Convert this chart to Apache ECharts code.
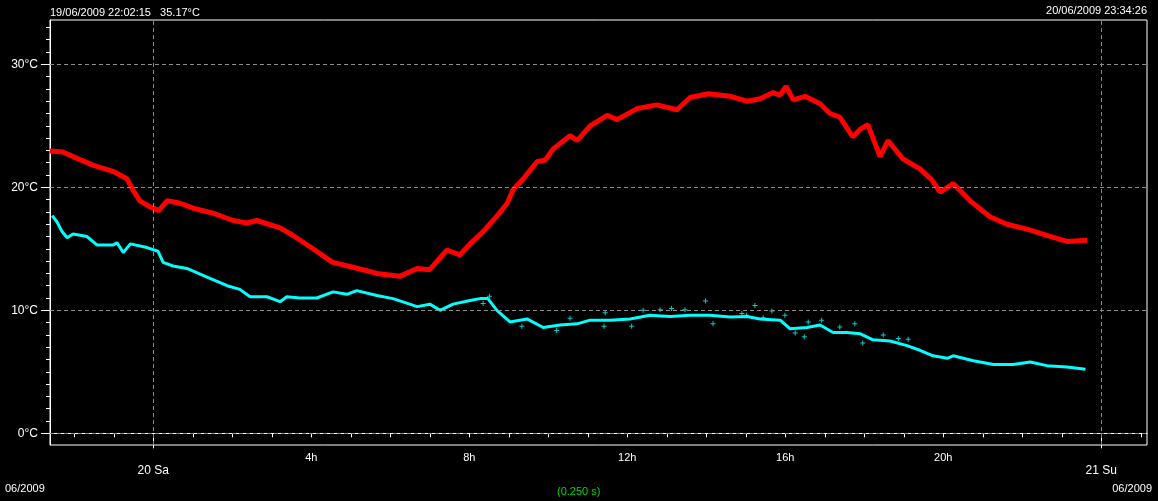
<!DOCTYPE html>
<html>
<head>
<meta charset="utf-8">
<script src="https://cdn.jsdelivr.net/npm/echarts@6/dist/echarts.min.js"></script>
<style>
html,body{margin:0;padding:0;background:#000;}
#c{width:1158px;height:501px;}
</style>
</head>
<body>
<div id="c"></div>
<script>
// x values are hours counted from 19/06/2009 00:00
var redX = [21.38,21.71,22.07,22.47,22.98,23.33,23.49,23.66,23.92,24.14,24.35,24.68,25.01,25.51,26.02,26.37,26.62,27.21,27.53,28.04,28.54,29.06,29.66,30.24,30.68,31.0,31.43,31.76,32.02,32.35,32.71,32.96,33.11,33.37,33.72,33.92,34.12,34.55,34.73,35.06,35.49,35.74,36.25,36.75,37.26,37.59,38.05,38.6,39.03,39.36,39.69,39.87,40.02,40.2,40.5,40.88,41.13,41.38,41.71,41.89,42.09,42.4,42.6,42.98,43.41,43.71,43.92,44.25,44.68,45.18,45.61,46.12,46.62,47.13,47.64];
var redY = [22.95,22.87,22.35,21.8,21.3,20.7,19.75,18.9,18.4,18.1,18.9,18.7,18.3,17.9,17.3,17.1,17.3,16.7,16.1,15.0,13.9,13.5,13.0,12.76,13.4,13.3,14.9,14.5,15.4,16.4,17.7,18.7,19.8,20.7,22.1,22.2,23.1,24.2,23.8,25.0,25.85,25.5,26.4,26.7,26.3,27.3,27.6,27.4,27.0,27.2,27.7,27.5,28.2,27.1,27.4,26.8,26.0,25.7,24.1,24.7,25.1,22.5,23.8,22.3,21.5,20.6,19.6,20.3,18.9,17.6,17.0,16.6,16.1,15.6,15.7];

var cyanX = [21.44,21.56,21.69,21.82,21.97,22.32,22.58,22.98,23.08,23.24,23.42,23.84,24.12,24.25,24.5,24.85,25.36,25.87,26.19,26.45,26.88,27.21,27.38,27.71,28.14,28.55,28.9,29.15,29.66,30.07,30.68,31.0,31.26,31.59,32.02,32.27,32.47,32.7,33.03,33.46,33.87,34.3,34.73,35.06,35.56,36.07,36.57,37.08,37.59,38.09,38.6,39.03,39.36,39.87,40.12,40.55,40.88,41.21,41.56,41.89,42.22,42.65,43.06,43.41,43.74,44.1,44.25,44.76,45.27,45.77,46.2,46.62,47.13,47.6];
var cyanY = [17.7,17.2,16.4,15.9,16.2,16.0,15.3,15.3,15.5,14.7,15.4,15.1,14.8,13.9,13.6,13.4,12.7,12.0,11.7,11.1,11.1,10.7,11.1,11.0,11.0,11.5,11.3,11.6,11.2,10.95,10.3,10.5,10.0,10.5,10.8,10.95,10.95,10.0,9.05,9.3,8.6,8.8,8.9,9.2,9.2,9.3,9.6,9.5,9.6,9.6,9.45,9.5,9.3,9.2,8.5,8.6,8.8,8.2,8.2,8.1,7.6,7.5,7.15,6.75,6.3,6.1,6.3,5.9,5.6,5.6,5.8,5.5,5.4,5.2];

// scattered cyan readings (noisy period)
var cyanNoiseX = [37.98,35.44,34.21,37.12,32.51,32.35,35.41,36.11,38.17,38.9,36.83,37.46,36.4,33.33,34.55,39.23,39.66,40.48,41.76,41.96,40.92,40.25,43.11,40.58,41.38,39.99,42.48,42.86,39.02,39.44];
var cyanNoiseY = [10.75,9.8,8.35,10.15,11.15,10.55,8.7,8.7,8.9,9.75,10.05,10.05,10.0,8.7,9.35,10.4,9.95,7.85,8.9,7.35,9.2,8.15,7.65,9.05,8.65,9.6,8.0,7.7,9.6,9.4];

var tempTicks = [0,10,20,30];
var tempMinorTicks = [1,2,3,4,5,6,7,8,9,11,12,13,14,15,16,17,18,19,21,22,23,24,25,26,27,28,29,31,32,33];
var hourLabelValues = [28,32,36,40,44];
var hourTicks = [22,23,25,26,27,28,29,30,31,32,33,34,35,36,37,38,39,40,41,42,43,44,45,46,47,49];
var dayValues = [24,48];
var dayLabels = ['20 Sa','21 Su'];

var XMIN = 21.385, XMAX = 49.157, YMIN = -0.95, YMAX = 33.6;

function pairs(xs, ys){ var o=[]; for (var i=0;i<xs.length;i++) o.push([xs[i], ys[i]]); return o; }

var FONT = 'Liberation Sans';
var chart = echarts.init(document.getElementById('c'), null, {renderer:'canvas'});
chart.setOption({
  backgroundColor:'#000',
  animation:false,
  grid:{left:50, top:20, right:11, bottom:56, show:true, borderColor:'#fff', borderWidth:1, backgroundColor:'#000'},
  xAxis:[{
    type:'value', min:XMIN, max:XMAX, position:'bottom',
    axisLine:{show:true, lineStyle:{color:'#fff', width:1}},
    axisTick:{show:true, customValues:hourTicks, length:4, lineStyle:{color:'#fff'}},
    axisLabel:{show:true, customValues:hourLabelValues, color:'#fff', fontFamily:FONT, fontSize:11, margin:7,
      formatter:function(v){ return (v-24)+'h'; }},
    splitLine:{show:false}
  },{
    type:'value', min:XMIN, max:XMAX, position:'bottom', gridIndex:0,
    axisLine:{show:false},
    axisTick:{show:true, customValues:dayValues, length:15, lineStyle:{color:'#fff'}},
    axisLabel:{show:true, customValues:dayValues, color:'#fff', fontFamily:FONT, fontSize:12, margin:20,
      formatter:function(v){ return dayLabels[dayValues.indexOf(v)]; }},
    splitLine:{show:false}
  }],
  yAxis:[{
    type:'value', min:YMIN, max:YMAX, position:'left',
    axisLine:{show:true, lineStyle:{color:'#fff', width:1}},
    axisTick:{show:true, customValues:tempTicks, length:9, lineStyle:{color:'#fff'}},
    axisLabel:{show:true, customValues:tempTicks, color:'#fff', fontFamily:FONT, fontSize:12, margin:12,
      formatter:function(v){ return v+'°C'; }},
    splitLine:{show:false}
  },{
    type:'value', min:YMIN, max:YMAX, position:'left',
    axisLine:{show:false},
    axisTick:{show:true, customValues:tempMinorTicks, length:4, lineStyle:{color:'#fff'}},
    axisLabel:{show:false},
    splitLine:{show:false}
  }],
  series:[{
    type:'line', name:'grid', data:[], silent:true,
    markLine:{
      silent:true, symbol:['none','none'], label:{show:false},
      lineStyle:{color:'#8a8a8a', type:[4,3], width:1},
      emphasis:{disabled:true},
      data: tempTicks.map(function(v){return {yAxis:v};}).concat(dayValues.map(function(v){return {xAxis:v};}))
    }
  },{
    type:'line', name:'red', data:pairs(redX, redY), showSymbol:false, smooth:false,
    lineStyle:{color:'#ff0000', width:5}, itemStyle:{color:'#ff0000'}, silent:true
  },{
    type:'scatter', name:'cyanNoise', data:pairs(cyanNoiseX, cyanNoiseY),
    symbol:'path://M2,0h1v2h2v1h-2v2h-1v-2h-2v-1h2z', symbolSize:5,
    itemStyle:{color:'#00ffff'}, silent:true
  },{
    type:'line', name:'cyan', data:pairs(cyanX, cyanY), showSymbol:false, smooth:false,
    lineStyle:{color:'#00ffff', width:3}, itemStyle:{color:'#00ffff'}, silent:true
  }],
  graphic:[
    {type:'text', left:50, top:7, style:{text:'19/06/2009 22:02:15   35.17°C', fill:'#fff', font:'11px "Liberation Sans"'}},
    {type:'text', right:11, top:5, style:{text:'20/06/2009 23:34:26', fill:'#fff', font:'11px "Liberation Sans"'}},
    {type:'text', left:5, top:483, style:{text:'06/2009', fill:'#fff', font:'11px "Liberation Sans"'}},
    {type:'text', right:6, top:483, style:{text:'06/2009', fill:'#fff', font:'11px "Liberation Sans"'}},
    {type:'text', left:557, top:486, style:{text:'(0.250 s)', fill:'#00dd00', font:'11px "Liberation Sans"'}}
  ]
});
</script>
</body>
</html>
